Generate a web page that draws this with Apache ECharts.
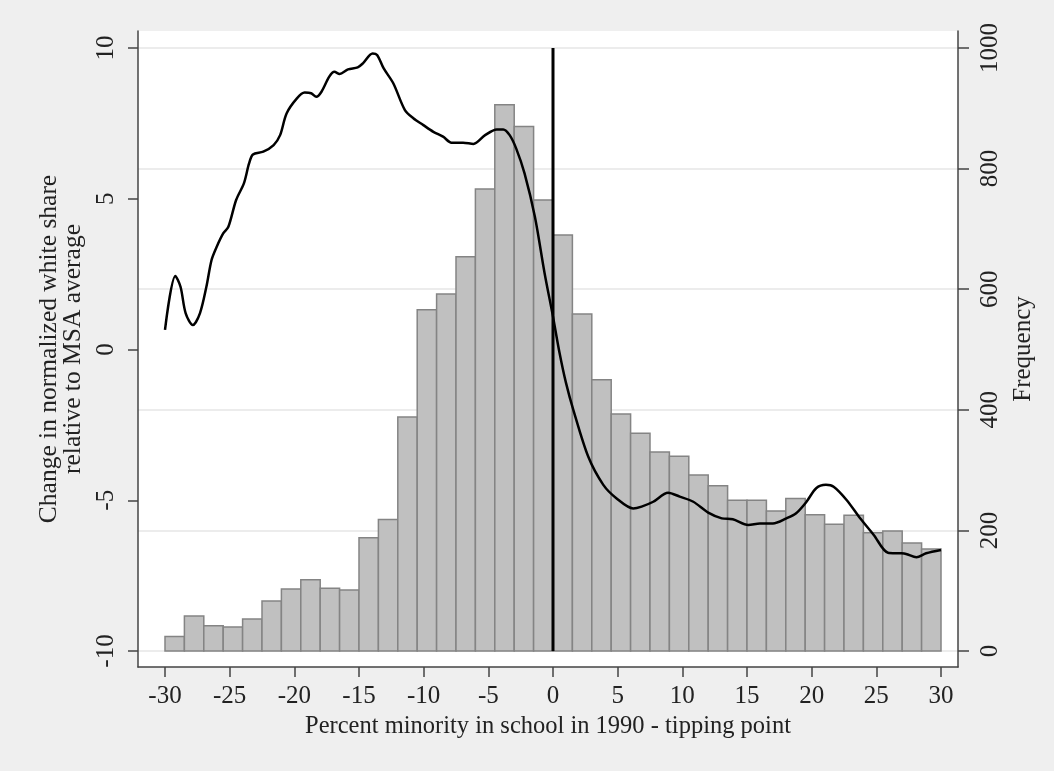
<!DOCTYPE html>
<html>
<head>
<meta charset="utf-8">
<script src="https://cdn.jsdelivr.net/npm/echarts@6/dist/echarts.min.js"></script>
<style>
html,body{margin:0;padding:0;background:#efefef;}
#chart{width:1054px;height:771px;}
</style>
</head>
<body>
<div id="chart"></div>
<script>
// ---------------- data ----------------
const binLeft = [-30,-28.5,-27,-25.5,-24,-22.5,-21,-19.5,-18,-16.5,-15,-13.5,-12,-10.5,-9,-7.5,-6,-4.5,-3,-1.5,
                 0,1.5,3,4.5,6,7.5,9,10.5,12,13.5,15,16.5,18,19.5,21,22.5,24,25.5,27,28.5];
const binWidth = 1.5;
const counts = [24,58,42,40,53,83,103,118,104,101,188,218,388,566,592,654,766,906,870,748,
                690,559,450,393,361,330,323,292,274,250,250,232,253,226,210,225,196,199,179,169];

const lineX = [-30,-29.2,-28.8,-28.4,-27.85,-27.3,-26.8,-26.4,-26.0,-25.5,-25.1,-24.5,-23.9,-23.5,-23.2,-22.4,-21.6,-21.1,-20.6,-19.8,
               -19.2,-18.7,-18.3,-17.9,-17.3,-16.9,-16.5,-15.85,-15.1,-14.7,-13.95,-13.6,-13.1,-12.35,-11.45,-10.8,-10.05,-9.25,-8.5,-7.85,
               -6.95,-6.15,-5.25,-4.35,-3.85,-3.35,-2.85,-2.2,-1.4,-0.65,0,0.5,1.0,1.57,2.73,3.89,4.92,6.2,6.85,7.75,
               8.9,9.8,10.85,12.0,13.05,13.9,15.1,16.0,17.0,18.05,18.8,19.6,20.35,21.1,21.7,22.7,23.75,24.8,25.9,26.85,
               27.3,28.1,28.85,30];
const lineY = [0.65,2.44,2.08,1.2,0.81,1.2,2.08,2.97,3.41,3.85,4.07,4.96,5.51,6.17,6.47,6.56,6.78,7.11,7.83,8.33,
               8.52,8.5,8.38,8.55,9.05,9.21,9.14,9.29,9.36,9.49,9.82,9.77,9.33,8.83,7.94,7.67,7.45,7.22,7.06,6.86,
               6.86,6.82,7.11,7.3,7.3,7.11,6.67,5.84,4.4,2.53,1.09,-0.1,-1.1,-2.0,-3.56,-4.49,-4.94,-5.27,-5.21,-5.05,
               -4.75,-4.88,-5.05,-5.41,-5.6,-5.63,-5.82,-5.77,-5.77,-5.6,-5.43,-5.05,-4.6,-4.49,-4.55,-4.99,-5.6,-6.15,-6.74,-6.76,
               -6.78,-6.89,-6.76,-6.65];

const cutoffLine = [[0,-10],[0,10]];

const xTicks = [-30,-25,-20,-15,-10,-5,0,5,10,15,20,25,30];
const leftTicks = [-10,-5,0,5,10];
const rightTicks = [0,200,400,600,800,1000];

const xTitle = 'Percent minority in school in 1990 - tipping point';
const leftTitle = 'Change in normalized white share\nrelative to MSA average';
const rightTitle = 'Frequency';

// ---------------- layout ----------------
const W = 1054, H = 771;
const plot = {left:138, right:958, top:31, bottom:667};   // white plot region
const inner = {x0:165, x1:941, yTop:48, yBot:651};        // where the data ranges sit
const xr = [-30, 30], lr = [-10, 10], rr = [0, 1000];

function ext(lo, hi, pLo, pHi, aLo, aHi, inverted) {
  const per = (hi - lo) / (pHi - pLo);
  return inverted
    ? [lo - (aHi - pHi) * per, hi + (pLo - aLo) * per]
    : [lo - (pLo - aLo) * per, hi + (aHi - pHi) * per];
}
const xExt = ext(xr[0], xr[1], inner.x0, inner.x1, plot.left, plot.right, false);
const lExt = ext(lr[0], lr[1], inner.yTop, inner.yBot, plot.top, plot.bottom, true);
const rExt = ext(rr[0], rr[1], inner.yTop, inner.yBot, plot.top, plot.bottom, true);

const FONT = '"Liberation Serif","DejaVu Serif",serif';
const TXT = '#222';
const AX = {color:'#444', width:1.5};
const plain = v => String(v);

const chart = echarts.init(document.getElementById('chart'), null, {renderer:'canvas'});
chart.setOption({
  animation:false,
  backgroundColor:'#efefef',
  textStyle:{fontFamily:FONT},
  grid:{left:plot.left, right:W-plot.right, top:plot.top, bottom:H-plot.bottom,
        show:true, backgroundColor:'#ffffff', borderWidth:0},
  xAxis:{
    type:'value', min:xExt[0], max:xExt[1],
    axisLine:{show:true, onZero:false, lineStyle:AX},
    axisTick:{show:true, customValues:xTicks, length:10, lineStyle:AX},
    axisLabel:{customValues:xTicks, formatter:plain, margin:17, fontSize:25, color:TXT, fontFamily:FONT},
    splitLine:{show:false},
    name:xTitle, nameLocation:'middle', nameGap:44,
    nameTextStyle:{fontSize:24.5, color:TXT, fontFamily:FONT}
  },
  yAxis:[
    {
      type:'value', position:'left', min:lExt[0], max:lExt[1],
      axisLine:{show:true, onZero:false, lineStyle:AX},
      axisTick:{show:true, customValues:leftTicks, length:10, lineStyle:AX},
      axisLabel:{customValues:leftTicks, formatter:plain, rotate:90, margin:19, fontSize:25, color:TXT, fontFamily:FONT},
      splitLine:{show:false},
      name:leftTitle, nameLocation:'middle', nameGap:41, nameRotate:90,
      nameTextStyle:{fontSize:25.5, lineHeight:24, color:TXT, fontFamily:FONT}
    },
    {
      type:'value', position:'right', min:rExt[0], max:rExt[1],
      axisLine:{show:true, onZero:false, lineStyle:AX},
      axisTick:{show:true, customValues:rightTicks, length:11, lineStyle:AX},
      axisLabel:{customValues:rightTicks, formatter:plain, rotate:90, margin:20, fontSize:25, color:TXT, fontFamily:FONT},
      splitLine:{show:true, lineStyle:{color:'#e6e6e6', width:1.5}},
      name:rightTitle, nameLocation:'middle', nameGap:45, nameRotate:90,
      nameTextStyle:{fontSize:25, color:TXT, fontFamily:FONT}
    }
  ],
  series:[
    {
      type:'custom', name:'Frequency', yAxisIndex:1, z:2,
      data: binLeft.map((b,i)=>[b, b+binWidth, counts[i]]),
      encode:{x:[0,1], y:2},
      renderItem:function(params, api){
        const p0 = api.coord([api.value(0), api.value(2)]);
        const p1 = api.coord([api.value(1), 0]);
        return {type:'rect',
          shape:{x:p0[0], y:p0[1], width:p1[0]-p0[0], height:p1[1]-p0[1]},
          style:{fill:'#c0c0c0', stroke:'#848484', lineWidth:1.5}};
      }
    },
    {
      type:'line', name:'Change', yAxisIndex:0, z:3,
      data: lineX.map((x,i)=>[x, lineY[i]]),
      smooth:0.3, showSymbol:false, symbol:'none',
      lineStyle:{color:'#000', width:2.5}
    },
    {
      type:'line', name:'cutoff', yAxisIndex:0, z:4,
      data: cutoffLine, showSymbol:false, symbol:'none',
      lineStyle:{color:'#000', width:3}
    }
  ]
});
</script>
</body>
</html>
